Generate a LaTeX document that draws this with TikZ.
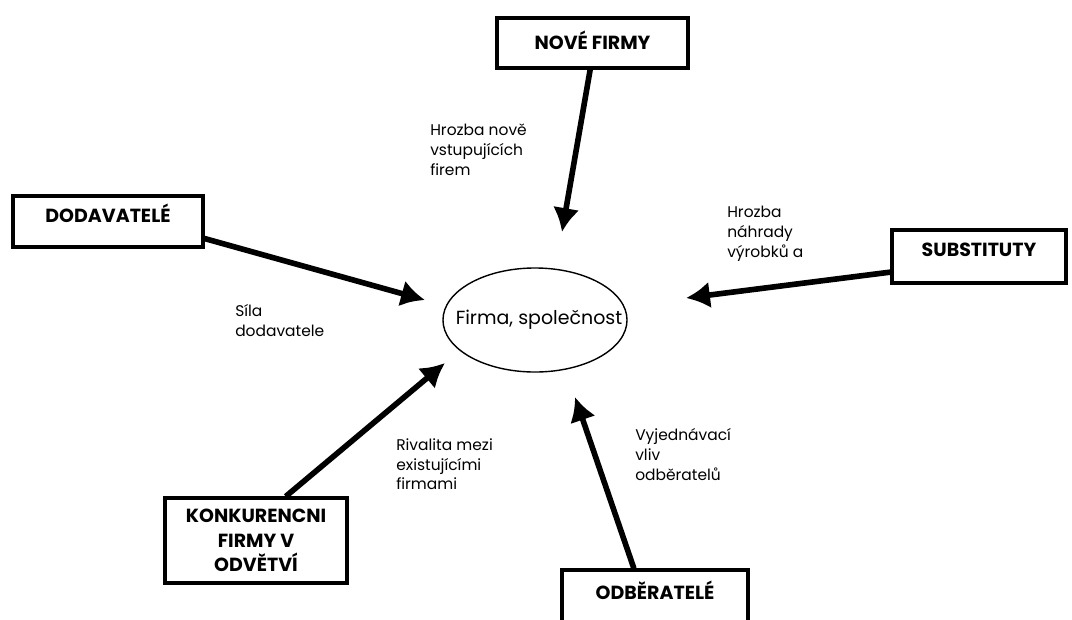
\documentclass[tikz,border=0pt]{standalone}
\usepackage{fontspec}
\setmainfont{Poppins}
\usetikzlibrary{arrows.meta}
\usetikzlibrary{positioning, shapes.geometric}
\tikzset{
  >=latex,
  box/.style={draw, line width=2.2pt, inner sep=0, align=center,
    font=\fontsize{13.5}{17.5}\selectfont\bfseries},
  firm/.style={ellipse, draw, line width=1pt, inner sep=0,
    minimum width=4.6cm, minimum height=2.6cm, font=\fontsize{13.5}{15}\selectfont},
  note/.style={anchor=north west, inner sep=0, align=left,
    font=\fontsize{11}{14.2}\selectfont},
  force/.style={-{Latex[length=17pt,width=19pt]}, line width=4pt}
}

\begin{document}
\begin{tikzpicture}[x=0.025cm, y=-0.025cm]
  \useasboundingbox (0,0) rectangle (1072,619);

  % firm in the middle
  \node[firm] (firma) at (535,320) {\makebox[0pt]{\hspace{0.2cm}Firma, společnost}};

  % the five forces
  \node[box, minimum width=4.775cm, minimum height=1.25cm, text depth=0.15cm] (nove) at (592.5,43) {NOVÉ FIRMY};
  \node[box, minimum width=4.75cm, minimum height=1.275cm, text depth=0.42cm] (dod) at (108,221.5) {DODAVATELÉ};
  \node[box, minimum width=4.35cm, minimum height=1.325cm, text depth=0.33cm] (sub) at (979,256.5) {SUBSTITUTY};
  \node[box, minimum width=4.55cm, minimum height=2.125cm] (konk) at (256,540.5) {KONKURENCNI\\FIRMY V\\ODVĚTVÍ};
  \node[box, minimum width=4.65cm, minimum height=1.75cm, text depth=0.75cm] (odb) at (655,605) {ODBĚRATELÉ};

  % arrow ends near the firm
  \coordinate (tnove) at (562,232);
  \coordinate (tdod) at (425,300);
  \coordinate (tsub) at (686,298);
  \coordinate (tkonk) at (445,363);
  \coordinate (todb) at (575,397);

  \draw[force] (nove.-95) -- (tnove);
  \draw[force] (dod.-10) -- (tdod);
  \draw[force] (sub.190) -- (tsub);
  \draw[force] (konk.56) -- (tkonk);
  \draw[force] (odb.120) -- (todb);

  % labels
  \node[note] (lnove) at (430,124) {Hrozba nově\\vstupujících\\firem};
  \node[note] (lsub) at (727,206) {Hrozba\\náhrady\\výrobků a};
  \node[note] (ldod) at (235,304) {Síla\\dodavatele};
  \node[note] (lkonk) at (396,438) {Rivalita mezi\\existujícími\\firmami};
  \node[note] (lodb) at (635,428) {Vyjednávací\\vliv\\odběratelů};
\end{tikzpicture}
\end{document}
